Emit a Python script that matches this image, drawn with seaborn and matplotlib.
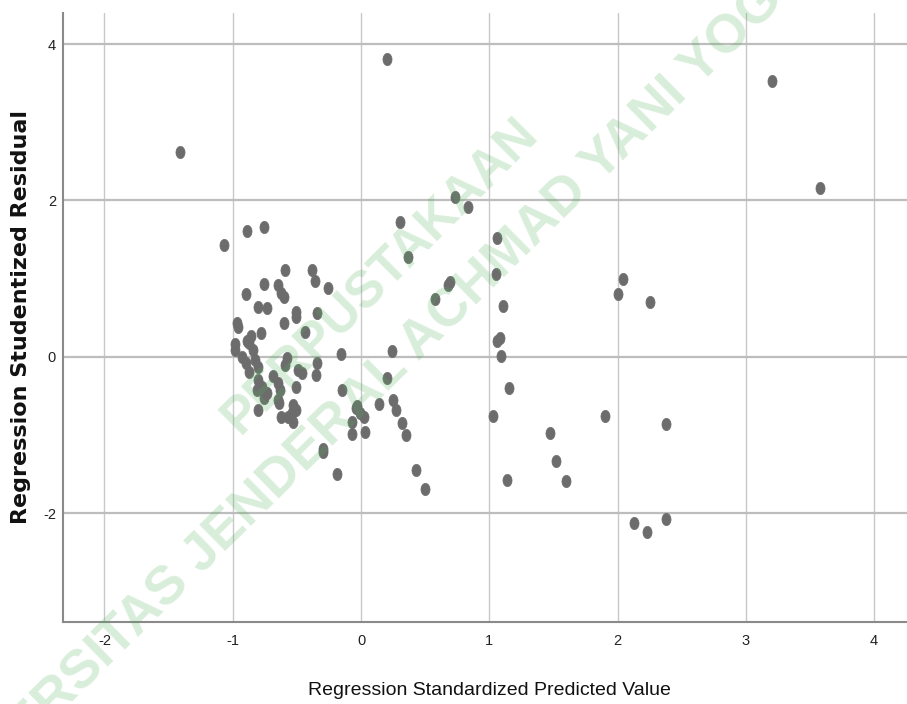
import numpy as np
import pandas as pd
import matplotlib
matplotlib.use('Agg')
import matplotlib.pyplot as plt
import seaborn as sns

# values
pred = [-1.41, 0.20, 3.20, 3.58, -1.07, -0.89, -0.76, 0.73, 0.83, 0.30,
        1.06, 0.37, 1.05, 0.68, 0.69, 0.58, 1.11, 2.00, 2.04, 2.25,
        1.06, 1.08, 1.09, 1.15, 1.03, 1.47, 1.52, 1.60, 1.14, 1.90,
        2.38, 2.13, 2.23, 2.38, 0.43, 0.50, -0.19, -0.30, -0.30, 0.24,
        0.20, 0.14, 0.25, 0.27, 0.32, 0.35, -0.03, -0.04, -0.01, 0.02,
        -0.07, -0.07, 0.03, -0.16, -0.15, -0.59, -0.38, -0.36, -0.26, -0.76,
        -0.65, -0.62, -0.60, -0.90, -0.80, -0.73, -0.51, -0.51, -0.34, -0.60,
        -0.44, -0.97, -0.96, -0.78, -0.86, -0.89, -0.87, -0.98, -0.98, -0.93,
        -0.90, -0.87, -0.83, -0.80, -0.58, -0.59, -0.49, -0.46, -0.34, -0.35,
        -0.80, -0.77, -0.81, -0.69, -0.65, -0.63, -0.51, -0.75, -0.73, -0.76,
        -0.65, -0.64, -0.80, -0.53, -0.51, -0.54, -0.57, -0.62, -0.53, -0.84]
resid = [2.62, 3.81, 3.53, 2.16, 1.43, 1.61, 1.66, 2.05, 1.92, 1.73,
         1.52, 1.28, 1.06, 0.92, 0.96, 0.74, 0.65, 0.81, 1.00, 0.70,
         0.20, 0.24, 0.01, -0.40, -0.75, -0.97, -1.33, -1.59, -1.57, -0.75,
         -0.86, -2.12, -2.24, -2.07, -1.44, -1.69, -1.50, -1.21, -1.18, 0.08,
         -0.27, -0.60, -0.55, -0.68, -0.84, -1.00, -0.63, -0.65, -0.72, -0.77,
         -0.83, -0.98, -0.96, 0.04, -0.42, 1.11, 1.11, 0.97, 0.88, 0.93,
         0.92, 0.82, 0.77, 0.81, 0.64, 0.63, 0.58, 0.51, 0.56, 0.44,
         0.32, 0.44, 0.38, 0.31, 0.27, 0.20, 0.18, 0.17, 0.09, 0.00,
         -0.08, -0.19, -0.04, -0.13, -0.01, -0.10, -0.17, -0.20, -0.08, -0.23,
         -0.29, -0.38, -0.42, -0.24, -0.33, -0.42, -0.38, -0.46, -0.46, -0.52,
         -0.55, -0.59, -0.68, -0.61, -0.68, -0.72, -0.77, -0.77, -0.83, 0.09]

x_ticks = [-2, -1, 0, 1, 2, 3, 4]
x_labels = ['-2', '-1', '0', '1', '2', '3', '4']
y_ticks = [-2, 0, 2, 4]
y_labels = ['-2', '0', '2', '4']

df = pd.DataFrame({'pred': pred, 'resid': resid})

sns.set_style('white')
plt.rcParams['font.family'] = ['Liberation Sans', 'DejaVu Sans']

fig = plt.figure(figsize=(9.07, 7.04), dpi=100)
ax = fig.add_axes([0.0695, 0.117, 0.9305, 0.8645])

# slightly tall ellipse marker, like the stretched original
t = np.linspace(0, 2 * np.pi, 40)
ell = np.column_stack([0.74 * np.cos(t), np.sin(t)])

sns.scatterplot(data=df, x='pred', y='resid', ax=ax, marker=ell, s=78,
                color='#6c6c6c', edgecolor='#6c6c6c', linewidth=0.5, zorder=3)

ax.set_xlim(-2.323, 4.256)
ax.set_ylim(-3.383, 4.396)
ax.set_xticks(x_ticks)
ax.set_xticklabels(x_labels)
ax.set_yticks(y_ticks)
ax.set_yticklabels(y_labels)
ax.tick_params(axis='both', length=0, labelsize=10.5, colors='#222222')
ax.tick_params(axis='x', pad=9)
ax.tick_params(axis='y', pad=5)

for v in x_ticks:
    ax.axvline(v, color='#c8c8c8', lw=1.0, zorder=1)
for v in y_ticks:
    ax.axhline(v, color='#bdbdbd', lw=1.6, zorder=1)

for s in ['top', 'right']:
    ax.spines[s].set_visible(False)
for s in ['left', 'bottom']:
    ax.spines[s].set_color('#8a8a8a')
    ax.spines[s].set_linewidth(1.5)

ax.set_xlabel('Regression Standardized Predicted Value', fontsize=14, color='#111111')
ax.xaxis.set_label_coords(0.505, -0.099)
ax.set_ylabel('Regression Studentized Residual', fontsize=16, fontweight='bold',
              family=['DejaVu Sans'], color='#111111')
ax.yaxis.set_label_coords(-0.038, 0.5)

# library watermark
wm = dict(color=(0.30, 0.70, 0.35), alpha=0.22, fontweight='bold',
          family=['Liberation Sans', 'DejaVu Sans'],
          ha='center', va='center', rotation_mode='anchor', zorder=10)
fig.text(0.420, 0.607, 'PERPUSTAKAAN', rotation=45, fontsize=37, **wm)
fig.text(0.486, 0.545, 'UNIVERSITAS JENDERAL ACHMAD YANI YOGYAKARTA', rotation=44.5,
         fontsize=39, **wm)

fig.savefig('out.png', dpi=100)
